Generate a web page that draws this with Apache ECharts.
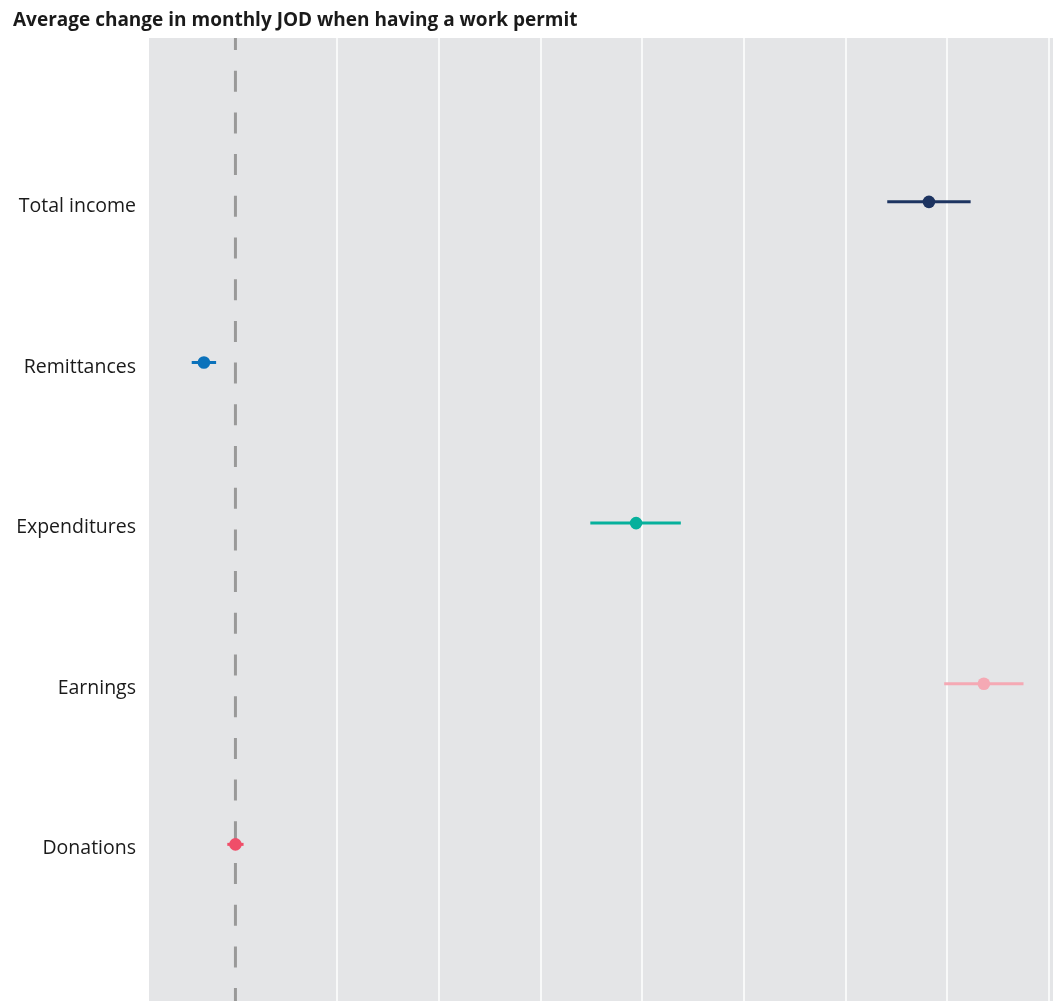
<!DOCTYPE html>
<html>
<head>
<meta charset="utf-8">
<title>Average change in monthly JOD when having a work permit</title>
<script src="https://cdn.jsdelivr.net/npm/echarts@6/dist/echarts.min.js"></script>
<style>
  html, body { margin: 0; padding: 0; background: #ffffff; }
  #chart { width: 1053px; height: 1001px; }
</style>
</head>
<body>
<div id="chart"></div>
<script>
// Outcomes, listed top to bottom
const categories = ['Total income', 'Remittances', 'Expenditures', 'Earnings', 'Donations'];
// Point estimate and confidence interval (JOD per month)
const estimates = [68.2, -3.1, 39.4, 73.6, 0.0];
const lowerBounds = [64.1, -4.3, 34.9, 69.7, -0.8];
const upperBounds = [72.3, -1.9, 43.8, 77.5, 0.8];
// Vertical reference lines on the x axis
const gridTicks = [10, 20, 30, 40, 50, 60, 70, 80];
const zeroLine = 0;

const colors = ['#1d3461', '#0b72bb', '#06b09c', '#f5a9b4', '#f04e69'];
const FONT = '"Open Sans", Lato, sans-serif';

const N = categories.length;
const posOf = i => N - i;          // Total income at the top
const Y_MIN = 0, Y_MAX = 6.02;

const chart = echarts.init(document.getElementById('chart'), null, { renderer: 'canvas' });

const pointData = categories.map((c, i) => [lowerBounds[i], upperBounds[i], estimates[i], posOf(i), i]);

chart.setOption({
  animation: false,
  backgroundColor: '#ffffff',
  title: {
    text: 'Average change in monthly JOD when having a work permit',
    left: 13, top: 11, padding: 0,
    textStyle: { fontFamily: FONT, fontSize: 19, fontWeight: 'bold', color: '#1a1a1a' }
  },
  grid: {
    left: 149, top: 38, width: 904, height: 967,
    show: true, backgroundColor: '#e4e5e7', borderWidth: 0,
    containLabel: false, outerBoundsMode: 'none'
  },
  xAxis: {
    type: 'value', min: -8.5, max: 80.4,
    axisLine: { show: false }, axisTick: { show: false },
    axisLabel: { show: false }, splitLine: { show: false }
  },
  yAxis: {
    type: 'value', min: Y_MIN, max: Y_MAX, interval: 1,
    axisLine: { show: false }, axisTick: { show: false }, splitLine: { show: false },
    axisLabel: {
      margin: 13,
      fontFamily: FONT, fontSize: 19.5, color: '#1a1a1a',
      formatter: v => {
        const idx = N - Math.round(v);
        return (Math.abs(v - Math.round(v)) < 1e-6 && idx >= 0 && idx < N) ? '{c|' + categories[idx] + '}' : '';
      },
      rich: {
        c: { fontFamily: FONT, fontSize: 19.5, color: '#1a1a1a', padding: [9, 0, 0, 0] }
      }
    }
  },
  series: [
    {
      // white vertical grid lines
      type: 'line', data: [], silent: true,
      markLine: {
        silent: true, symbol: 'none', label: { show: false },
        lineStyle: { color: '#ffffff', width: 1.5, type: 'solid' },
        data: gridTicks.map(t => ({ xAxis: t }))
      }
    },
    {
      // dashed zero reference line
      type: 'line', silent: true, symbol: 'none',
      data: [[zeroLine, Y_MAX], [zeroLine, Y_MIN]],
      lineStyle: { color: '#999999', width: 3, type: [21, 20.7], dashOffset: 9 },
      z: 3
    },
    {
      type: 'custom',
      data: pointData,
      z: 5,
      renderItem: (params, api) => {
        const lo = api.coord([api.value(0), api.value(3)]);
        const hi = api.coord([api.value(1), api.value(3)]);
        const mid = api.coord([api.value(2), api.value(3)]);
        const color = colors[api.value(4)];
        return {
          type: 'group',
          children: [
            {
              type: 'line',
              shape: { x1: lo[0], y1: lo[1], x2: hi[0], y2: hi[1] },
              style: { stroke: color, lineWidth: 3 }
            },
            {
              type: 'circle',
              shape: { cx: mid[0], cy: mid[1], r: 6.3 },
              style: { fill: color }
            }
          ]
        };
      }
    }
  ]
});
</script>
</body>
</html>
